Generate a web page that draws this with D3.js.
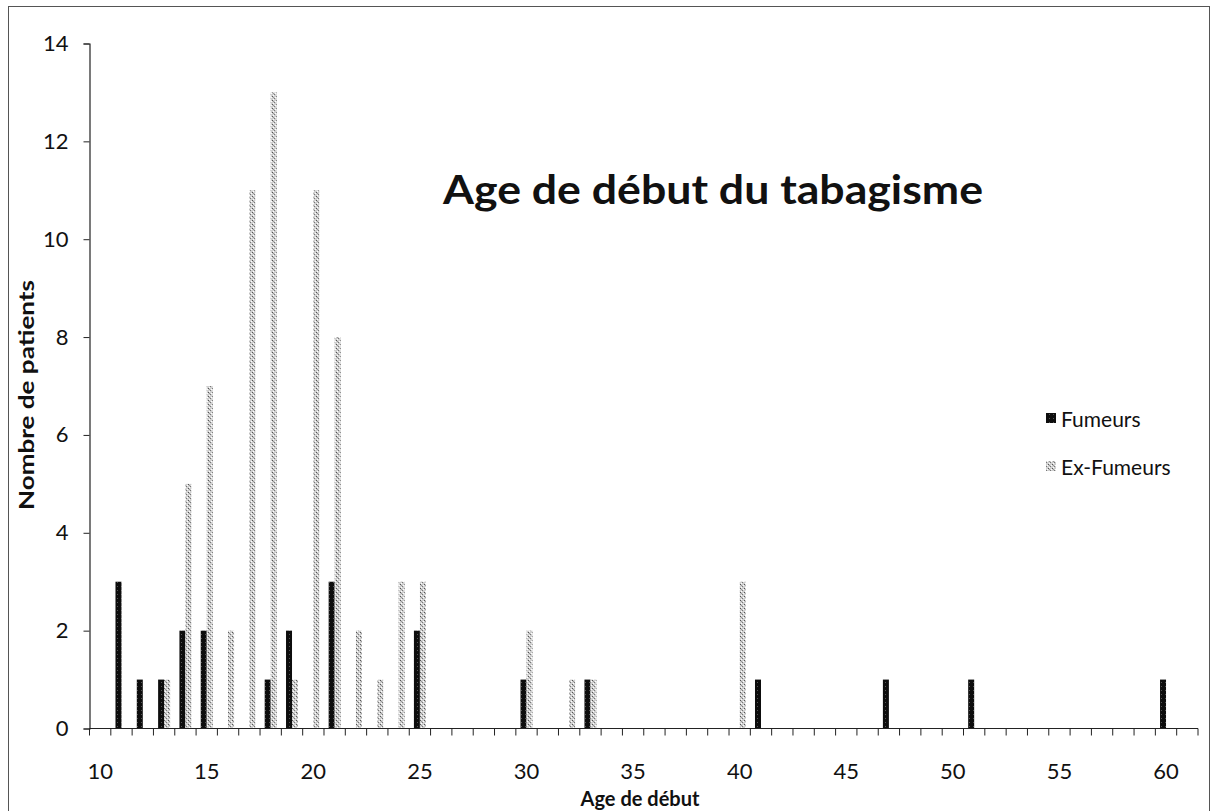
<!DOCTYPE html>
<html><head><meta charset="utf-8">
<script src="https://cdn.jsdelivr.net/npm/d3@7"></script>
<style>
html,body{margin:0;padding:0;background:#fff;}
svg{display:block;font-family:Lato,"Open Sans",sans-serif;}
</style></head>
<body>
<svg id="chart" width="1212" height="811"></svg>
<script>
// ---- data ----
const ages = [10,11,12,13,14,15,16,17,18,19,20,21,22,23,24,25,26,27,28,29,30,31,32,33,34,35,36,37,38,39,40,41,42,43,44,45,46,47,48,49,50,51,52,53,54,55,56,57,58,59,60,61];
const fumeurs = [0,3,1,1,2,2,0,0,1,2,0,3,0,0,0,2,0,0,0,0,1,0,0,1,0,0,0,0,0,0,0,1,0,0,0,0,0,1,0,0,0,1,0,0,0,0,0,0,0,0,1,0];
const exFumeurs = [0,0,0,1,5,7,2,11,13,1,11,8,2,1,3,3,0,0,0,0,2,0,1,1,0,0,0,0,0,0,3,0,0,0,0,0,0,0,0,0,0,0,0,0,0,0,0,0,0,0,0,0];
const seriesNames = ["Fumeurs","Ex-Fumeurs"];
const xTickLabels = [10,15,20,25,30,35,40,45,50,55,60];
const yTicks = [0,2,4,6,8,10,12,14];
const title = "Age de début du tabagisme";
const xTitle = "Age de début";
const yTitle = "Nombre de patients";

const svg = d3.select("#chart");
const defs = svg.append("defs");

// textured fills
const pDark = defs.append("pattern").attr("id","pDark").attr("patternUnits","userSpaceOnUse").attr("width",4).attr("height",4);
pDark.append("rect").attr("width",4).attr("height",4).attr("fill","#0d0d0d");
pDark.append("rect").attr("x",1).attr("y",2).attr("width",1).attr("height",1).attr("fill","#555");
const pLight = defs.append("pattern").attr("id","pLight").attr("patternUnits","userSpaceOnUse").attr("width",4).attr("height",4);
pLight.append("rect").attr("width",4).attr("height",4).attr("fill","#cfcfcf");
pLight.append("rect").attr("x",0).attr("y",0).attr("width",1).attr("height",1).attr("fill","#555");
pLight.append("rect").attr("x",2).attr("y",2).attr("width",1).attr("height",1).attr("fill","#777");
pLight.append("rect").attr("x",1).attr("y",1).attr("width",1).attr("height",1).attr("fill","#999");
pLight.append("rect").attr("x",3).attr("y",1).attr("width",1).attr("height",1).attr("fill","#ffffff");
pLight.append("rect").attr("x",1).attr("y",3).attr("width",1).attr("height",1).attr("fill","#ffffff");

// outer border
svg.append("rect").attr("x",8.5).attr("y",6.5).attr("width",1201).attr("height",820)
  .attr("fill","none").attr("stroke","#555").attr("stroke-width",1);

const x = d3.scaleBand().domain(ages).range([89.5, 1198]).padding(0);
const y = d3.scaleLinear().domain([0,14]).range([728.5, 43.5]);
const inner = d3.scaleBand().domain(seriesNames).range([0,12]);
const groupOffset = (x.bandwidth() - 12)/2;

// bars
const rows = ages.map((a,i)=>({age:a, vals:[fumeurs[i], exFumeurs[i]]}));
const g = svg.append("g");
rows.forEach(r=>{
  r.vals.forEach((v,j)=>{
    if(v<=0) return;
    g.append("rect")
      .attr("x", x(r.age) + groupOffset + inner(seriesNames[j]))
      .attr("y", y(v))
      .attr("width", inner.bandwidth())
      .attr("height", y(0)-y(v))
      .attr("fill", j===0 ? "url(#pDark)" : "url(#pLight)");
  });
});

// y axis
const yAxis = d3.axisLeft(y).tickValues(yTicks).tickSize(6).tickPadding(15);
const gy = svg.append("g").attr("transform","translate(89.5,0)").call(yAxis);
gy.select(".domain").attr("stroke","#222").attr("stroke-width",1.2);
gy.selectAll(".tick line").attr("stroke","#222");
gy.selectAll("text").attr("font-size",22).attr("fill","#111").attr("font-family","Lato, sans-serif");

// x axis (ticks at band boundaries)
const gx = svg.append("g").attr("transform","translate(0,728.5)");
gx.append("line").attr("x1",x.range()[0]).attr("x2",x.range()[1]).attr("stroke","#222").attr("stroke-width",1.2);
const bounds = ages.map(a=>x(a)).concat([x(ages[ages.length-1])+x.bandwidth()]);
gx.selectAll("line.tk").data(bounds).join("line").attr("class","tk")
  .attr("x1",d=>d).attr("x2",d=>d).attr("y1",0).attr("y2",7).attr("stroke","#222");
gx.selectAll("text").data(xTickLabels).join("text")
  .attr("x",d=>x(d)+x.bandwidth()/2).attr("y",50)
  .attr("text-anchor","middle").attr("font-size",22).attr("fill","#111").text(d=>d);

// titles
svg.append("text").attr("x",713).attr("y",204).attr("text-anchor","middle")
  .attr("font-size",41).attr("font-weight","bold").attr("fill","#111")
  .attr("textLength",540).attr("lengthAdjust","spacingAndGlyphs").text(title);
svg.append("text").attr("x",640).attr("y",806).attr("text-anchor","middle")
  .attr("font-size",20).attr("font-weight","bold").attr("fill","#111").text(xTitle);
svg.append("text").attr("transform","translate(34,395) rotate(-90)").attr("text-anchor","middle")
  .attr("font-size",20).attr("font-weight","bold").attr("fill","#111")
  .attr("textLength",230).attr("lengthAdjust","spacingAndGlyphs").text(yTitle);

// legend
const leg = svg.append("g");
seriesNames.forEach((n,i)=>{
  const yy = 419 + i*48;
  leg.append("rect").attr("x",1046).attr("y",yy-6).attr("width",10).attr("height",10)
    .attr("fill", i===0 ? "url(#pDark)" : "url(#pLight)");
  leg.append("text").attr("x",1061).attr("y",yy+8).attr("font-size",21).attr("fill","#111").text(n);
});
</script>
</body></html>
